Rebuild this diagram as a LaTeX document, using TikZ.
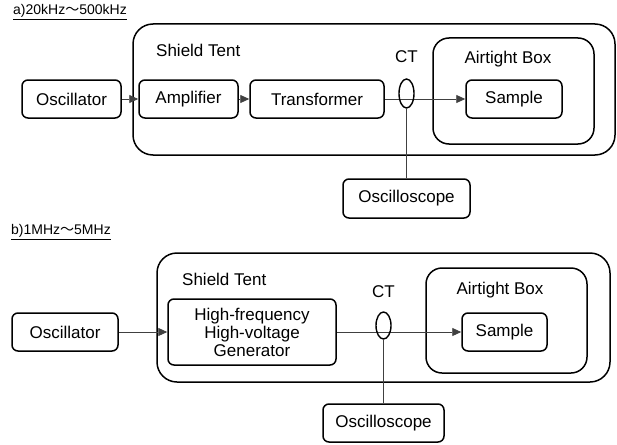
\documentclass[tikz,border=0pt]{standalone}
\usepackage{fontspec}
\setmainfont{Liberation Sans}
\newfontfamily\cjk{Noto Sans CJK JP}
\usetikzlibrary{arrows.meta,shapes.geometric}

\tikzset{
  blk/.style={draw=black, line width=1.5pt, rounded corners=6pt, minimum width=#1, minimum height=38pt, inner sep=0pt, font=\fontsize{17}{20}\selectfont},
  encl/.style={draw=black, line width=1.5pt, rounded corners=#1, inner sep=0pt},
  ctring/.style={draw=black, line width=1.4pt, ellipse, inner sep=0pt},
  lbl/.style={font=\fontsize{17}{20}\selectfont, inner sep=0pt},
  ttl/.style={font=\fontsize{14}{16}\selectfont, inner sep=0pt, anchor=west},
  wire/.style={draw=black!75, line width=0.9pt},
  feed/.style={wire, -{Triangle[length=9pt,width=8pt]}},
}

\begin{document}
\begin{tikzpicture}[x=1pt, y=-1pt]
\useasboundingbox (0,0) rectangle (617,444);

% ---------- a) 20kHz - 500kHz ----------
\node[ttl] (ta) at (13,12) {\underline{a)20kHz{\cjk ～}500kHz}};

\node[encl=20pt, minimum width=482pt, minimum height=131pt] (tentA) at (374,89.5) {};
\node[encl=16pt, minimum width=161pt, minimum height=106pt] (boxA) at (513.5,91) {};
\node[lbl, anchor=west] (tentAlbl) at (156,50) {Shield Tent};
\node[lbl] (boxAlbl) at (508,59) {Airtight Box};
\node[lbl] (ctAlbl) at (406.5,57) {CT};

\node[blk=99pt] (oscA) at (71.5,99) {Oscillator};
\node[blk=99pt] (amp) at (188.5,99) {Amplifier};
\node[blk=134pt] (trans) at (317,99) {Transformer};
\node[blk=96pt] (sampA) at (514,99) {Sample};
\node[blk=127pt, minimum height=39pt] (scopeA) at (406.5,198.5) {Oscilloscope};

\draw[feed] (oscA.east) -- (amp.west);
\draw[feed] (amp.east) -- (trans.west);
\draw[feed] (trans.east) -- (sampA.west);
\node[ctring, minimum width=15pt, minimum height=29pt] (ctA) at (406.5,93.5) {};
\draw[wire] (ctA.south) -- (scopeA.north);

% ---------- b) 1MHz - 5MHz ----------
\node[ttl] (tb) at (11,232) {\underline{b)1MHz{\cjk ～}5MHz}};

\node[encl=20pt, minimum width=453pt, minimum height=129pt] (tentB) at (383.5,317.5) {};
\node[encl=16pt, minimum width=161pt, minimum height=105pt] (boxB) at (506.5,320.5) {};
\node[lbl, anchor=west] (tentBlbl) at (182,279) {Shield Tent};
\node[lbl] (boxBlbl) at (500,290) {Airtight Box};
\node[lbl] (ctBlbl) at (383.5,292) {CT};

\node[blk=106pt] (oscB) at (65,332) {Oscillator};
\node[blk=168pt, minimum height=66pt, align=center, font=\fontsize{17}{18}\selectfont] (gen) at (252,332) {High-frequency\\High-voltage\\Generator};
\node[blk=85pt] (sampB) at (504.5,332) {Sample};
\node[blk=121pt] (scopeB) at (383.5,423) {Oscilloscope};

\draw[feed] (oscB.east) -- (gen.west);
\draw[feed] (gen.east) -- (sampB.west);
\node[ctring, minimum width=15pt, minimum height=27pt] (ctB) at (383.5,325.5) {};
\draw[wire] (ctB.south) -- (scopeB.north);
\end{tikzpicture}
\end{document}
